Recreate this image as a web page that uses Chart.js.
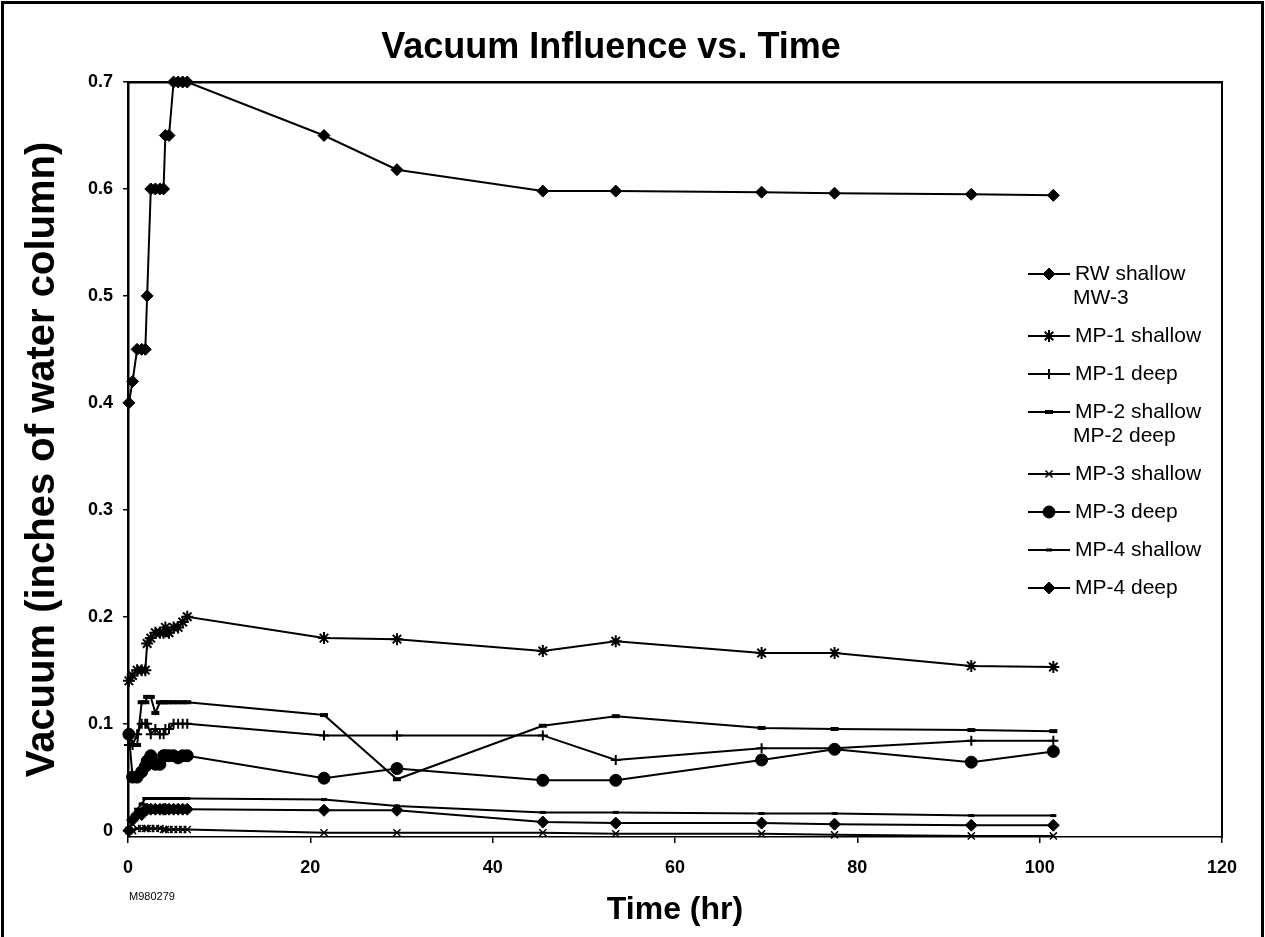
<!DOCTYPE html>
<html>
<head>
<meta charset="utf-8">
<title>Vacuum Influence vs. Time</title>
<script src="https://cdn.jsdelivr.net/npm/chart.js@4.4.1/dist/chart.umd.min.js"></script>
<style>
  html, body { margin: 0; padding: 0; background: #fff; }
  canvas { display: block; }
</style>
</head>
<body>
<canvas id="vacuumChart" width="1265" height="937"></canvas>
<script>
// readings taken at these elapsed times (hr)
const hours = [0.1, 0.5, 1, 1.5, 1.9, 2.1, 2.5, 3, 3.5, 3.9, 4.1, 4.5, 5, 5.5, 6, 6.5,
               21.5, 29.5, 45.5, 53.5, 69.5, 77.5, 92.5, 101.5];

// vacuum, inches of water column
const rwShallow  = [0.40, 0.42, 0.45, 0.45, 0.45, 0.50, 0.60, 0.60, 0.60, 0.60, 0.65, 0.65, 0.70, 0.70, 0.70, 0.70,
                    0.65, 0.618, 0.598, 0.598, 0.597, 0.596, 0.595, 0.594];
const mp1Shallow = [0.14, 0.145, 0.15, 0.15, 0.15, 0.175, 0.18, 0.185, 0.185, 0.185, 0.19, 0.185, 0.19, 0.19, 0.195, 0.20,
                    0.18, 0.179, 0.168, 0.177, 0.166, 0.166, 0.154, 0.153];
const mp1Deep    = [0.08, 0.08, 0.09, 0.10, 0.10, 0.10, 0.09, 0.095, 0.09, 0.09, 0.095, 0.095, 0.10, 0.10, 0.10, 0.10,
                    0.089, 0.089, 0.089, 0.066, 0.077, 0.077, 0.084, 0.084];
const mp2Shallow = [0.09, 0.08, 0.08, 0.12, 0.12, 0.125, 0.125, 0.11, 0.12, 0.12, 0.12, 0.12, 0.12, 0.12, 0.12, 0.12,
                    0.108, 0.048, 0.098, 0.107, 0.096, 0.095, 0.094, 0.093];
const mp3Shallow = [0, 0, 0.002, 0.002, 0.002, 0.002, 0.002, 0.002, 0.002, 0.001, 0.001, 0.001, 0.001, 0.001, 0.001, 0.001,
                    -0.002, -0.002, -0.002, -0.003, -0.003, -0.004, -0.005, -0.005];
const mp3Deep    = [0.09, 0.05, 0.05, 0.055, 0.06, 0.065, 0.07, 0.062, 0.062, 0.07, 0.07, 0.07, 0.07, 0.068, 0.07, 0.07,
                    0.049, 0.058, 0.047, 0.047, 0.066, 0.076, 0.064, 0.074];
const mp4Shallow = [0, 0.01, 0.02, 0.025, 0.03, 0.03, 0.03, 0.03, 0.03, 0.03, 0.03, 0.03, 0.03, 0.03, 0.03, 0.03,
                    0.029, 0.023, 0.017, 0.017, 0.016, 0.016, 0.014, 0.014];
const mp4Deep    = [0, 0.01, 0.015, 0.015, 0.02, 0.02, 0.02, 0.02, 0.02, 0.02, 0.02, 0.02, 0.02, 0.02, 0.02, 0.02,
                    0.019, 0.019, 0.008, 0.007, 0.007, 0.006, 0.005, 0.005];

const seriesNames = [
    ['RW shallow', 'MW-3'],
    ['MP-1 shallow'],
    ['MP-1 deep'],
    ['MP-2 shallow', 'MP-2 deep'],
    ['MP-3 shallow'],
    ['MP-3 deep'],
    ['MP-4 shallow'],
    ['MP-4 deep']
];

const xTicks = [0, 20, 40, 60, 80, 100, 120];
const yTicks = [0, 0.1, 0.2, 0.3, 0.4, 0.5, 0.6, 0.7];

const FONT = "'Liberation Sans', Arial, sans-serif";
Chart.defaults.font.family = FONT;
Chart.defaults.color = '#000';

function points(values) {
    return values.map((v, i) => ({ x: hours[i], y: v }));
}

function series(idx, values, style, radius, pointWidth) {
    return {
        label: seriesNames[idx].join(' '),
        data: points(values),
        borderColor: '#000',
        backgroundColor: '#000',
        borderWidth: 2,
        pointStyle: style,
        pointRadius: radius,
        pointBorderWidth: pointWidth,
        pointBackgroundColor: '#000',
        pointBorderColor: '#000',
        tension: 0,
        clip: false
    };
}

// legend drawn inside the plot, line + marker + label
const insideLegend = {
    id: 'insideLegend',
    afterDatasetsDraw(chart, args, opts) {
        const ctx = chart.ctx;
        let y = opts.top;
        ctx.save();
        ctx.font = opts.font;
        ctx.textBaseline = 'middle';
        chart.data.datasets.forEach((ds, i) => {
            ctx.strokeStyle = '#000';
            ctx.fillStyle = '#000';
            ctx.lineWidth = 2;
            ctx.beginPath();
            ctx.moveTo(opts.left, y);
            ctx.lineTo(opts.left + opts.lineLength, y);
            ctx.stroke();
            ctx.lineWidth = ds.pointBorderWidth;
            Chart.helpers.drawPoint(ctx, {
                pointStyle: ds.pointStyle,
                radius: ds.pointRadius,
                borderWidth: ds.pointBorderWidth,
                rotation: 0
            }, opts.left + opts.lineLength / 2, y);
            const lines = seriesNames[i];
            lines.forEach((t, k) => {
                ctx.fillText(t, opts.left + opts.lineLength + 5 - (k > 0 ? 2 : 0), y + k * opts.lineHeight);
            });
            y += lines.length * opts.lineHeight + opts.gap;
        });
        ctx.restore();
    }
};

// outer page frame and the drawing number
const pageFrame = {
    id: 'pageFrame',
    beforeDraw(chart) {
        const ctx = chart.ctx;
        ctx.save();
        ctx.strokeStyle = '#000';
        ctx.lineWidth = 3;
        ctx.beginPath();
        ctx.moveTo(2.5, chart.height + 5);
        ctx.lineTo(2.5, 2.5);
        ctx.lineTo(chart.width - 2.5, 2.5);
        ctx.lineTo(chart.width - 2.5, chart.height + 5);
        ctx.stroke();
        ctx.restore();
    },
    afterDraw(chart) {
        const ctx = chart.ctx;
        ctx.save();
        ctx.font = '11px ' + FONT;
        ctx.fillStyle = '#000';
        ctx.textAlign = 'center';
        ctx.textBaseline = 'middle';
        ctx.fillText('M980279', 152, 897);
        ctx.restore();
    }
};

const ctx = document.getElementById('vacuumChart').getContext('2d');
const vacuumChart = new Chart(ctx, {
    type: 'line',
    data: {
        datasets: [
            series(0, rwShallow, 'rectRot', 6, 1),
            series(1, mp1Shallow, 'star', 6, 2),
            series(2, mp1Deep, 'cross', 5, 2),
            series(3, mp2Shallow, 'line', 4, 4),
            series(4, mp3Shallow, 'crossRot', 5, 1.5),
            series(5, mp3Deep, 'circle', 6, 1),
            series(6, mp4Shallow, 'line', 3, 3),
            series(7, mp4Deep, 'rectRot', 6, 1)
        ]
    },
    options: {
        responsive: false,
        animation: false,
        layout: { padding: { left: 0, top: 0, right: 43, bottom: 0 } },
        plugins: {
            legend: { display: false },
            tooltip: { enabled: false },
            title: {
                display: true,
                text: 'Vacuum Influence vs. Time',
                font: { size: 36, weight: 'bold' },
                padding: { top: 26, bottom: 12.8 }
            },
            insideLegend: {
                left: 1028, top: 274, lineLength: 42,
                lineHeight: 24, gap: 14,
                font: '21px ' + FONT
            }
        },
        scales: {
            x: {
                type: 'linear',
                min: 0,
                max: 120,
                afterBuildTicks: axis => { axis.ticks = xTicks.map(v => ({ value: v })); },
                afterFit: scale => { scale.height = 100; },
                ticks: { font: { size: 18, weight: 'bold' }, padding: 14, autoSkip: false, maxRotation: 0 },
                grid: { drawOnChartArea: false, tickLength: 6, color: '#000', lineWidth: 1.5 },
                border: { color: '#000', width: 1.5 },
                title: {
                    display: true,
                    text: 'Time (hr)',
                    font: { size: 32, weight: 'bold' },
                    padding: { top: 0, bottom: 8 }
                }
            },
            y: {
                type: 'linear',
                min: -0.006,
                max: 0.7,
                afterBuildTicks: axis => { axis.ticks = yTicks.map(v => ({ value: v })); },
                afterFit: scale => { scale.width = 128; },
                ticks: { font: { size: 18, weight: 'bold' }, padding: 10, callback: v => String(v) },
                grid: { drawOnChartArea: false, tickLength: 5, color: '#000', lineWidth: 1.5 },
                border: { color: '#000', width: 2.5 },
                title: {
                    display: true,
                    text: 'Vacuum (inches of water column)',
                    font: { size: 40, weight: 'bold' },
                    padding: { top: 19, bottom: 0 }
                }
            },
            xTop: {
                type: 'linear',
                position: 'top',
                min: 0,
                max: 120,
                afterFit: scale => { scale.height = 0; },
                ticks: { display: false },
                grid: { drawOnChartArea: false, drawTicks: false },
                border: { color: '#000', width: 2.5 }
            },
            yRight: {
                type: 'linear',
                position: 'right',
                min: 0,
                max: 0.7,
                afterFit: scale => { scale.width = 0; },
                ticks: { display: false },
                grid: { drawOnChartArea: false, drawTicks: false },
                border: { color: '#000', width: 2 }
            }
        }
    },
    plugins: [pageFrame, insideLegend]
});
</script>
</body>
</html>
